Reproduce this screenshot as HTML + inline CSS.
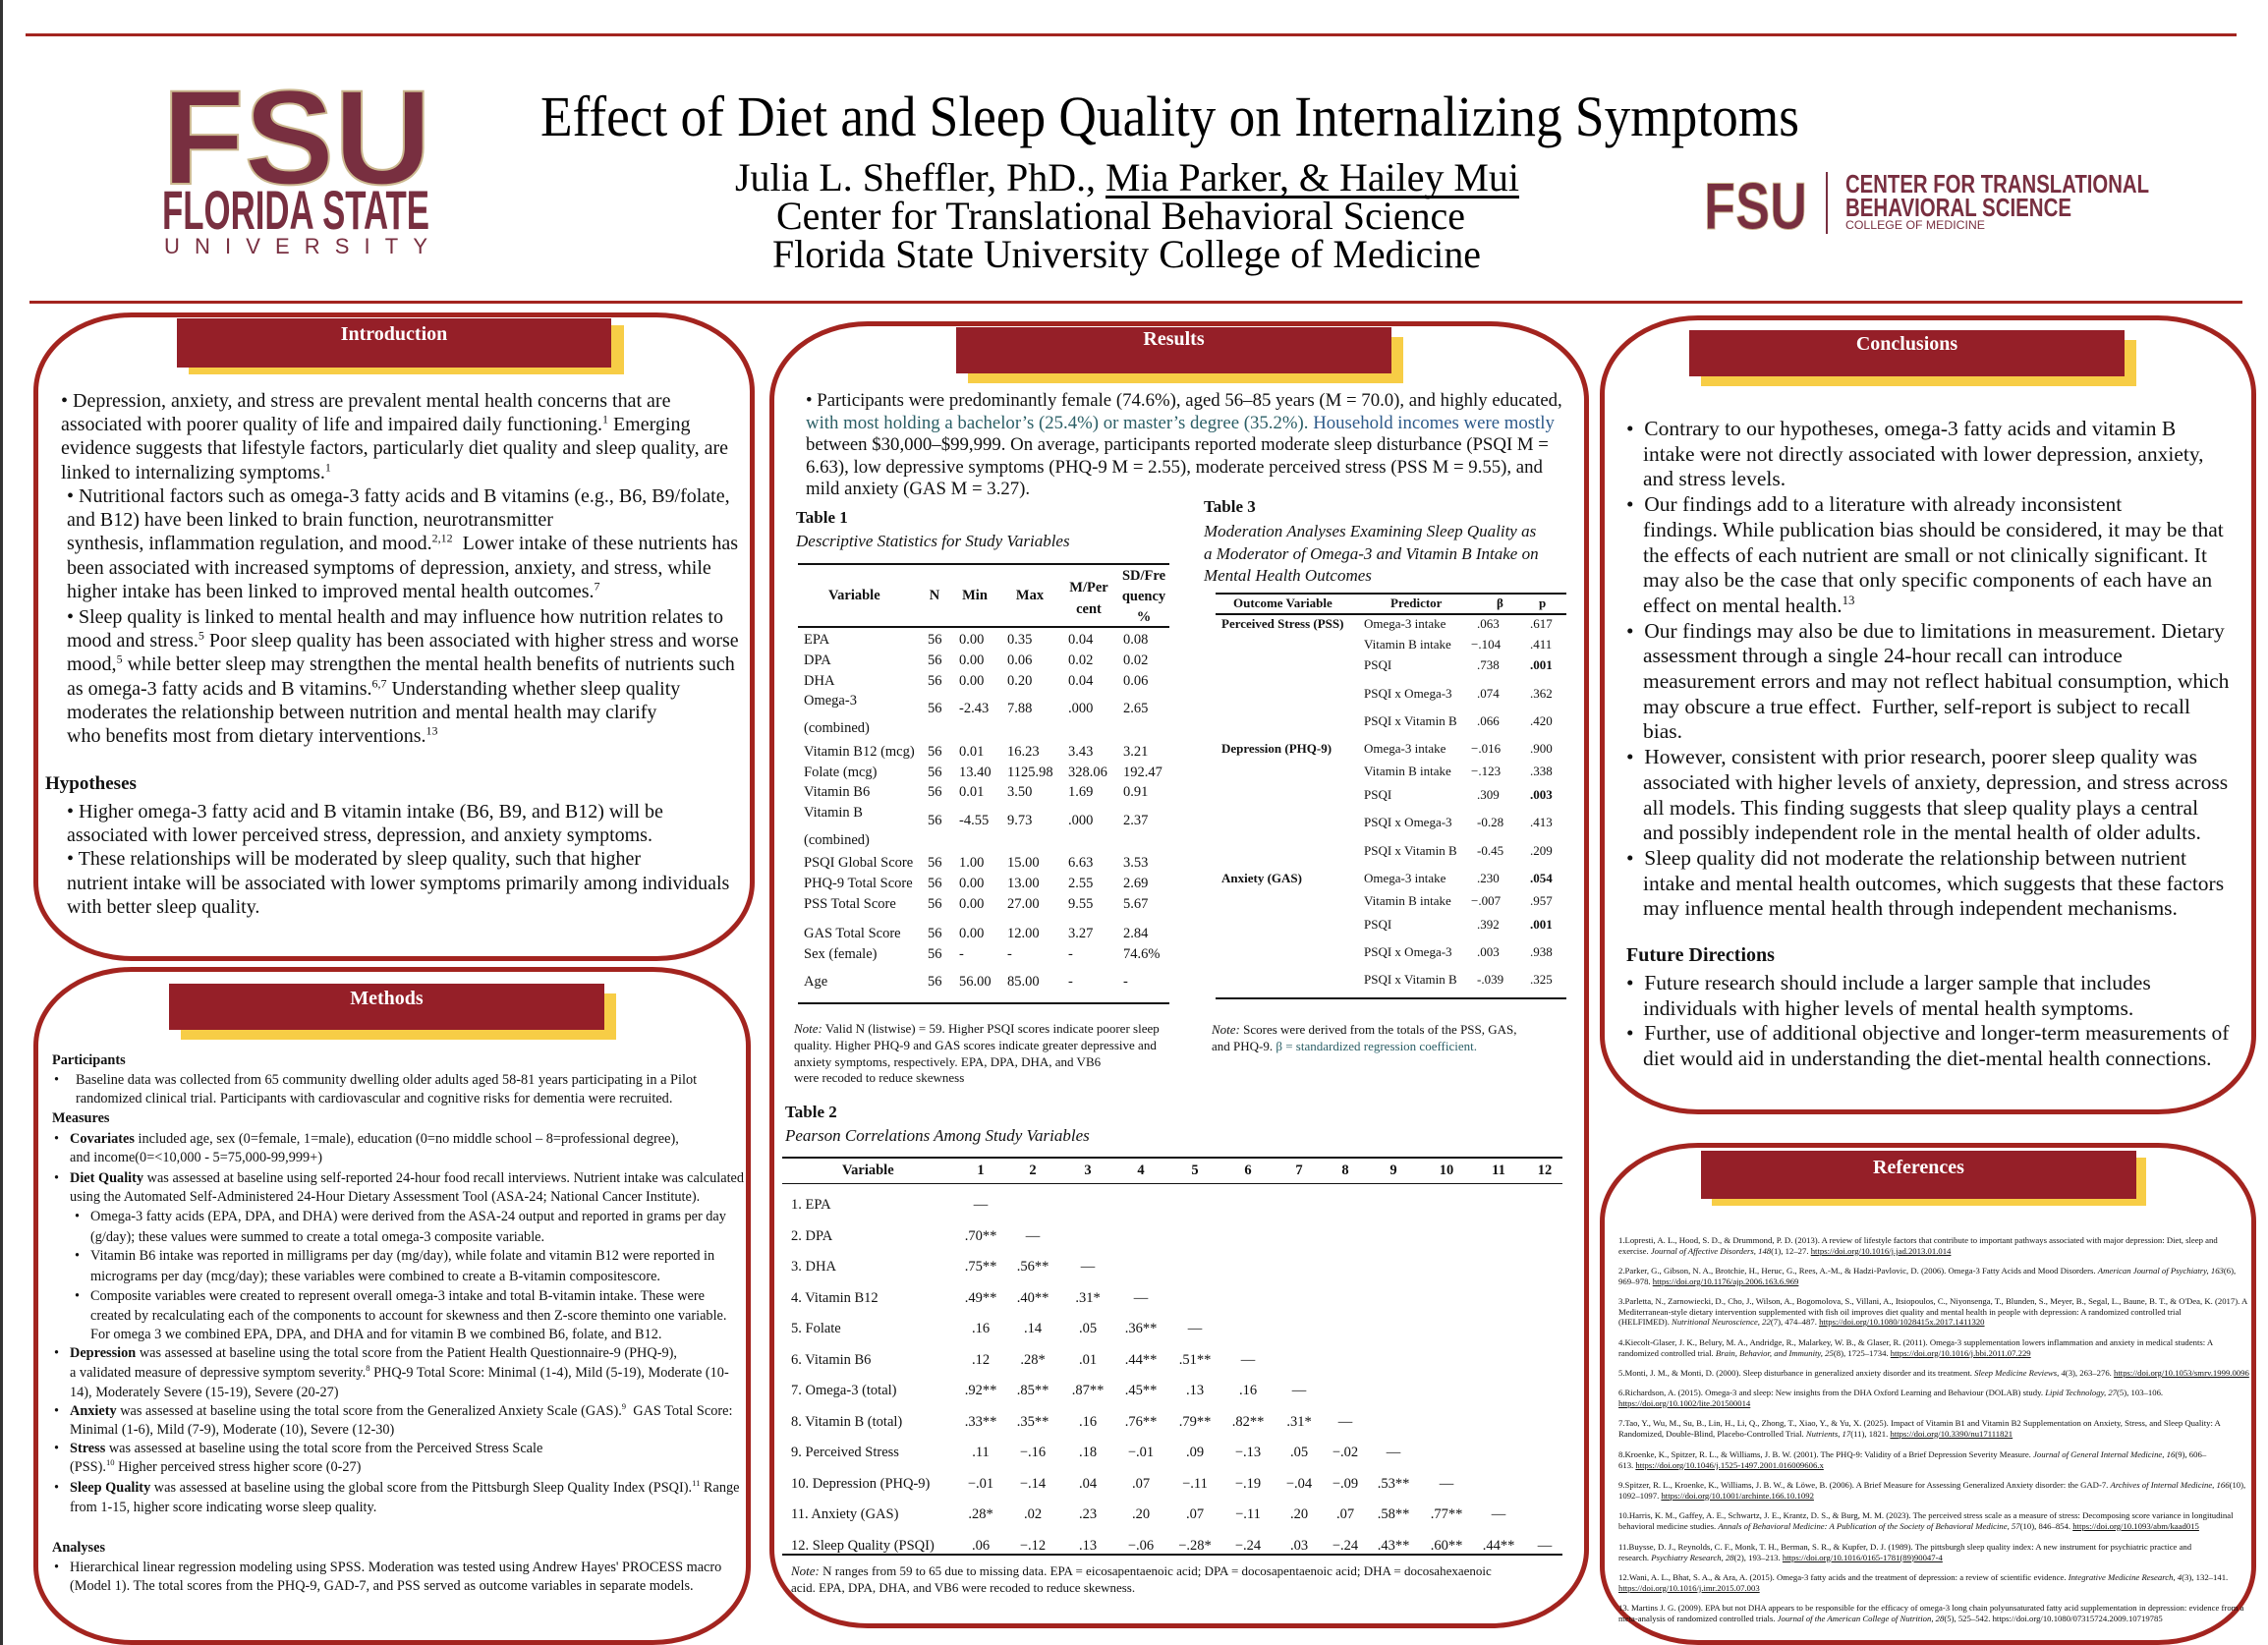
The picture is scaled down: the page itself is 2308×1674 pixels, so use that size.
<!DOCTYPE html>
<html><head><meta charset="utf-8">
<style>
html,body{margin:0;padding:0;background:#fff;}
body{width:2308px;height:1674px;position:relative;overflow:hidden;font-family:"Liberation Serif",serif;color:#111;}
.a{position:absolute;white-space:nowrap;}
.panel{position:absolute;border:5px solid #a3241f;border-radius:100px/80px;background:#fff;box-sizing:border-box;}
.bar{position:absolute;background:#951f28;color:#fff;font-weight:bold;font-size:20px;text-align:center;}
.ybar{position:absolute;background:#f7cd46;}
.hr{position:absolute;background:#a3241f;height:3px;}
.rule{position:absolute;background:#111;}
.intro{font-size:20px;line-height:24.2px;}
.res{font-size:18.8px;line-height:22.6px;}
.conc{font-size:21.5px;line-height:25.7px;}
.cp{padding-left:17px;text-indent:-17px;}
.meth{font-size:14.3px;}
.tb{font-size:14.5px;}
.c{text-align:center;}
.ref{font-size:8.7px;line-height:10.6px;}
.ref u{text-decoration:underline;}
sup{font-size:60%;line-height:0;}
</style></head><body>
<div class="a" style="left:0;top:0;width:3px;height:1674px;background:#333"></div>
<div class="hr" style="left:26px;top:34px;width:2250px;"></div>
<div class="hr" style="left:30px;top:306px;width:2252px;"></div>

<svg class="a" style="left:0;top:0" width="2308" height="300" xmlns="http://www.w3.org/2000/svg">
<text x="165" y="187" font-family="Liberation Sans" font-weight="bold" font-size="137" fill="#782f40" stroke="#cbb88f" stroke-width="2" textLength="274" lengthAdjust="spacingAndGlyphs">FSU</text>
<text x="165" y="233" font-family="Liberation Sans" font-weight="bold" font-size="56" fill="#782f40" textLength="272" lengthAdjust="spacingAndGlyphs">FLORIDA STATE</text>
<text x="167" y="258" font-family="Liberation Sans" font-size="22" fill="#782f40" textLength="268" lengthAdjust="spacing">UNIVERSITY</text>
<text x="550" y="138" font-family="Liberation Serif" font-size="58" fill="#000" textLength="1281" lengthAdjust="spacingAndGlyphs">Effect of Diet and Sleep Quality on Internalizing Symptoms</text>
<text x="748" y="194" font-family="Liberation Serif" font-size="40" fill="#000" textLength="798" lengthAdjust="spacingAndGlyphs">Julia L. Sheffler, PhD., Mia Parker, &amp; Hailey Mui</text>
<rect x="1125" y="199" width="421" height="3" fill="#000"/>
<text x="790" y="233" font-family="Liberation Serif" font-size="40" fill="#000" textLength="701" lengthAdjust="spacingAndGlyphs">Center for Translational Behavioral Science</text>
<text x="786" y="272" font-family="Liberation Serif" font-size="40" fill="#000" textLength="721" lengthAdjust="spacingAndGlyphs">Florida State University College of Medicine</text>
<text x="1734" y="233" font-family="Liberation Sans" font-weight="bold" font-size="68" fill="#782f40" stroke="#cbb88f" stroke-width="1" textLength="105" lengthAdjust="spacingAndGlyphs">FSU</text>
<rect x="1858" y="175" width="2" height="63" fill="#782f40"/>
<text x="1878" y="196" font-family="Liberation Sans" font-weight="bold" font-size="26" fill="#782f40" textLength="309" lengthAdjust="spacingAndGlyphs">CENTER FOR TRANSLATIONAL</text>
<text x="1878" y="220" font-family="Liberation Sans" font-weight="bold" font-size="26" fill="#782f40" textLength="230" lengthAdjust="spacingAndGlyphs">BEHAVIORAL SCIENCE</text>
<text x="1878" y="233" font-family="Liberation Sans" font-size="12" fill="#782f40" textLength="142" lengthAdjust="spacingAndGlyphs">COLLEGE OF MEDICINE</text>
</svg>

<!-- Panels -->
<div class="panel" style="left:34px;top:318px;width:734px;height:660px;"></div>
<div class="panel" style="left:34px;top:984px;width:730px;height:690px;"></div>
<div class="panel" style="left:783px;top:327px;width:834px;height:1330px;"></div>
<div class="panel" style="left:1628px;top:321px;width:668px;height:813px;"></div>
<div class="panel" style="left:1628px;top:1163px;width:668px;height:511px;"></div>

<!-- Bars -->
<div class="ybar" style="left:192px;top:331px;width:443px;height:50px;"></div>
<div class="bar" style="left:180px;top:324px;width:442px;height:50px;line-height:32px;">Introduction</div>
<div class="ybar" style="left:985px;top:343px;width:443px;height:47px;"></div>
<div class="bar" style="left:973px;top:333px;width:443px;height:47px;line-height:24px;">Results</div>
<div class="ybar" style="left:1731px;top:346px;width:443px;height:47px;"></div>
<div class="bar" style="left:1719px;top:336px;width:443px;height:47px;line-height:28px;">Conclusions</div>
<div class="ybar" style="left:184px;top:1011px;width:443px;height:47px;"></div>
<div class="bar" style="left:172px;top:1001px;width:443px;height:47px;line-height:30px;">Methods</div>
<div class="ybar" style="left:1742px;top:1178px;width:442px;height:49px;"></div>
<div class="bar" style="left:1731px;top:1171px;width:443px;height:49px;line-height:34px;">References</div>

<!-- Introduction -->
<div class="a intro" style="left:62px;top:396px;">• Depression, anxiety, and stress are prevalent mental health concerns that are<br>associated with poorer quality of life and impaired daily functioning.<sup>1</sup> Emerging<br>evidence suggests that lifestyle factors, particularly diet quality and sleep quality, are<br>linked to internalizing symptoms.<sup>1</sup></div>
<div class="a intro" style="left:68px;top:493px;">• Nutritional factors such as omega-3 fatty acids and B vitamins (e.g., B6, B9/folate,<br>and B12) have been linked to brain function, neurotransmitter<br>synthesis, inflammation regulation, and mood.<sup>2,12</sup>&nbsp; Lower intake of these nutrients has<br>been associated with increased symptoms of depression, anxiety, and stress, while<br>higher intake has been linked to improved mental health outcomes.<sup>7</sup></div>
<div class="a intro" style="left:68px;top:616px;">• Sleep quality is linked to mental health and may influence how nutrition relates to<br>mood and stress.<sup>5</sup> Poor sleep quality has been associated with higher stress and worse<br>mood,<sup>5</sup> while better sleep may strengthen the mental health benefits of nutrients such<br>as omega-3 fatty acids and B vitamins.<sup>6,7</sup> Understanding whether sleep quality<br>moderates the relationship between nutrition and mental health may clarify<br>who benefits most from dietary interventions.<sup>13</sup></div>
<div class="a" style="left:46px;top:787px;font-size:19px;font-weight:bold;">Hypotheses</div>
<div class="a intro" style="left:68px;top:814px;">• Higher omega-3 fatty acid and B vitamin intake (B6, B9, and B12) will be<br>associated with lower perceived stress, depression, and anxiety symptoms.<br>• These relationships will be moderated by sleep quality, such that higher<br>nutrient intake will be associated with lower symptoms primarily among individuals<br>with better sleep quality.</div>

<!-- Methods -->
<div class="a meth" style="left:53px;top:1071px;font-weight:bold;">Participants</div>
<div class="a meth" style="left:55px;top:1091px;">•</div>
<div class="a meth" style="left:77px;top:1091px;">Baseline data was collected from 65 community dwelling older adults aged 58-81 years participating in a Pilot</div>
<div class="a meth" style="left:77px;top:1110px;">randomized clinical trial. Participants with cardiovascular and cognitive risks for dementia were recruited.</div>
<div class="a meth" style="left:53px;top:1130px;font-weight:bold;">Measures</div>
<div class="a meth" style="left:55px;top:1151px;">•</div>
<div class="a meth" style="left:71px;top:1151px;"><b>Covariates</b> included age, sex (0=female, 1=male), education (0=no middle school – 8=professional degree),</div>
<div class="a meth" style="left:71px;top:1170px;">and income(0=&lt;10,000 - 5=75,000-99,999+)</div>
<div class="a meth" style="left:55px;top:1191px;">•</div>
<div class="a meth" style="left:71px;top:1191px;"><b>Diet Quality</b> was assessed at baseline using self-reported 24-hour food recall interviews. Nutrient intake was calculated</div>
<div class="a meth" style="left:71px;top:1210px;">using the Automated Self-Administered 24-Hour Dietary Assessment Tool (ASA-24; National Cancer Institute).</div>
<div class="a meth" style="left:76px;top:1230px;">•</div>
<div class="a meth" style="left:92px;top:1230px;">Omega-3 fatty acids (EPA, DPA, and DHA) were derived from the ASA-24 output and reported in grams per day</div>
<div class="a meth" style="left:92px;top:1251px;">(g/day); these values were summed to create a total omega-3 composite variable.</div>
<div class="a meth" style="left:76px;top:1270px;">•</div>
<div class="a meth" style="left:92px;top:1270px;">Vitamin B6 intake was reported in milligrams per day (mg/day), while folate and vitamin B12 were reported in</div>
<div class="a meth" style="left:92px;top:1291px;">micrograms per day (mcg/day); these variables were combined to create a B-vitamin compositescore.</div>
<div class="a meth" style="left:76px;top:1311px;">•</div>
<div class="a meth" style="left:92px;top:1311px;">Composite variables were created to represent overall omega-3 intake and total B-vitamin intake. These were</div>
<div class="a meth" style="left:92px;top:1331px;">created by recalculating each of the components to account for skewness and then Z-score theminto one variable.</div>
<div class="a meth" style="left:92px;top:1350px;">For omega 3 we combined EPA, DPA, and DHA and for vitamin B we combined B6, folate, and B12.</div>
<div class="a meth" style="left:55px;top:1369px;">•</div>
<div class="a meth" style="left:71px;top:1369px;"><b>Depression</b> was assessed at baseline using the total score from the Patient Health Questionnaire-9 (PHQ-9),</div>
<div class="a meth" style="left:71px;top:1389px;">a validated measure of depressive symptom severity.<sup>8</sup> PHQ-9 Total Score: Minimal (1-4), Mild (5-19), Moderate (10-</div>
<div class="a meth" style="left:71px;top:1409px;">14), Moderately Severe (15-19), Severe (20-27)</div>
<div class="a meth" style="left:55px;top:1428px;">•</div>
<div class="a meth" style="left:71px;top:1428px;"><b>Anxiety</b> was assessed at baseline using the total score from the Generalized Anxiety Scale (GAS).<sup>9</sup>&nbsp; GAS Total Score:</div>
<div class="a meth" style="left:71px;top:1447px;">Minimal (1-6), Mild (7-9), Moderate (10), Severe (12-30)</div>
<div class="a meth" style="left:55px;top:1466px;">•</div>
<div class="a meth" style="left:71px;top:1466px;"><b>Stress</b> was assessed at baseline using the total score from the Perceived Stress Scale</div>
<div class="a meth" style="left:71px;top:1485px;">(PSS).<sup>10</sup> Higher perceived stress higher score (0-27)</div>
<div class="a meth" style="left:55px;top:1506px;">•</div>
<div class="a meth" style="left:71px;top:1506px;"><b>Sleep Quality</b> was assessed at baseline using the global score from the Pittsburgh Sleep Quality Index (PSQI).<sup>11</sup> Range</div>
<div class="a meth" style="left:71px;top:1526px;">from 1-15, higher score indicating worse sleep quality.</div>
<div class="a meth" style="left:53px;top:1567px;font-weight:bold;">Analyses</div>
<div class="a meth" style="left:55px;top:1587px;">•</div>
<div class="a meth" style="left:71px;top:1587px;">Hierarchical linear regression modeling using SPSS. Moderation was tested using Andrew Hayes' PROCESS macro</div>
<div class="a meth" style="left:71px;top:1606px;">(Model 1). The total scores from the PHQ-9, GAD-7, and PSS served as outcome variables in separate models.</div>

<!-- Results text -->
<div class="a res" style="left:820px;top:397px;">• Participants were predominantly female (74.6%), aged 56–85 years (M = 70.0), and highly educated,<br><span style="color:#2b5f66">with most holding a bachelor’s (25.4%) or master’s degree (35.2%).</span> <span style="color:#2d5a8a">Household incomes were mostly</span><br>between $30,000–$99,999. On average, participants reported moderate sleep disturbance (PSQI M =<br>6.63), low depressive symptoms (PHQ-9 M = 2.55), moderate perceived stress (PSS M = 9.55), and<br>mild anxiety (GAS M = 3.27).</div>

<!-- Table 1 -->
<div class="a" style="left:810px;top:517px;font-size:17px;font-weight:bold;">Table 1</div>
<div class="a" style="left:810px;top:541px;font-size:17px;font-style:italic;">Descriptive Statistics for Study Variables</div>
<div class="rule" style="left:812px;top:573px;width:378px;height:2px;"></div>
<div class="rule" style="left:812px;top:637px;width:378px;height:2px;"></div>
<div class="rule" style="left:812px;top:1020px;width:378px;height:2px;"></div>
<div class="a tb" style="left:843px;top:598px;font-weight:bold;width:60px;" >Variable</div>
<div class="a tb c" style="left:936px;top:598px;width:30px;font-weight:bold;">N</div>
<div class="a tb c" style="left:972px;top:598px;width:40px;font-weight:bold;">Min</div>
<div class="a tb c" style="left:1028px;top:598px;width:40px;font-weight:bold;">Max</div>
<div class="a tb c" style="left:1080px;top:587px;width:56px;font-weight:bold;line-height:22px;white-space:normal;">M/Per<br>cent</div>
<div class="a tb c" style="left:1136px;top:576px;width:56px;font-weight:bold;line-height:21px;">SD/Fre<br>quency<br>%</div>
<div class="a tb" style="left:818px;top:641px;line-height:21px;">EPA<br>DPA<br>DHA</div>
<div class="a tb" style="left:818px;top:699px;line-height:28px;">Omega-3<br>(combined)</div>
<div class="a tb" style="left:818px;top:755px;line-height:20.5px;">Vitamin B12 (mcg)<br>Folate (mcg)<br>Vitamin B6</div>
<div class="a tb" style="left:818px;top:813px;line-height:28px;">Vitamin B<br>(combined)</div>
<div class="a tb" style="left:818px;top:868px;line-height:21px;">PSQI Global Score<br>PHQ-9 Total Score<br>PSS Total Score</div>
<div class="a tb" style="left:818px;top:940px;line-height:21px;">GAS Total Score<br>Sex (female)</div>
<div class="a tb" style="left:818px;top:991px;">Age</div>
<div class="a tb" style="left:944px;top:641px;line-height:21px;">56<br>56<br>56</div>
<div class="a tb" style="left:944px;top:713px;">56</div>
<div class="a tb" style="left:944px;top:755px;line-height:20.5px;">56<br>56<br>56</div>
<div class="a tb" style="left:944px;top:827px;">56</div>
<div class="a tb" style="left:944px;top:868px;line-height:21px;">56<br>56<br>56</div>
<div class="a tb" style="left:944px;top:940px;line-height:21px;">56<br>56</div>
<div class="a tb" style="left:944px;top:991px;">56</div>
<div class="a tb" style="left:976px;top:641px;line-height:21px;">0.00<br>0.00<br>0.00</div>
<div class="a tb" style="left:976px;top:713px;">-2.43</div>
<div class="a tb" style="left:976px;top:755px;line-height:20.5px;">0.01<br>13.40<br>0.01</div>
<div class="a tb" style="left:976px;top:827px;">-4.55</div>
<div class="a tb" style="left:976px;top:868px;line-height:21px;">1.00<br>0.00<br>0.00</div>
<div class="a tb" style="left:976px;top:940px;line-height:21px;">0.00<br>-</div>
<div class="a tb" style="left:976px;top:991px;">56.00</div>
<div class="a tb" style="left:1025px;top:641px;line-height:21px;">0.35<br>0.06<br>0.20</div>
<div class="a tb" style="left:1025px;top:713px;">7.88</div>
<div class="a tb" style="left:1025px;top:755px;line-height:20.5px;">16.23<br>1125.98<br>3.50</div>
<div class="a tb" style="left:1025px;top:827px;">9.73</div>
<div class="a tb" style="left:1025px;top:868px;line-height:21px;">15.00<br>13.00<br>27.00</div>
<div class="a tb" style="left:1025px;top:940px;line-height:21px;">12.00<br>-</div>
<div class="a tb" style="left:1025px;top:991px;">85.00</div>
<div class="a tb" style="left:1087px;top:641px;line-height:21px;">0.04<br>0.02<br>0.04</div>
<div class="a tb" style="left:1087px;top:713px;">.000</div>
<div class="a tb" style="left:1087px;top:755px;line-height:20.5px;">3.43<br>328.06<br>1.69</div>
<div class="a tb" style="left:1087px;top:827px;">.000</div>
<div class="a tb" style="left:1087px;top:868px;line-height:21px;">6.63<br>2.55<br>9.55</div>
<div class="a tb" style="left:1087px;top:940px;line-height:21px;">3.27<br>-</div>
<div class="a tb" style="left:1087px;top:991px;">-</div>
<div class="a tb" style="left:1143px;top:641px;line-height:21px;">0.08<br>0.02<br>0.06</div>
<div class="a tb" style="left:1143px;top:713px;">2.65</div>
<div class="a tb" style="left:1143px;top:755px;line-height:20.5px;">3.21<br>192.47<br>0.91</div>
<div class="a tb" style="left:1143px;top:827px;">2.37</div>
<div class="a tb" style="left:1143px;top:868px;line-height:21px;">3.53<br>2.69<br>5.67</div>
<div class="a tb" style="left:1143px;top:940px;line-height:21px;">2.84<br>74.6%</div>
<div class="a tb" style="left:1143px;top:991px;">-</div>
<div class="a" style="left:808px;top:1039px;font-size:13px;line-height:16.8px;"><i>Note:</i> Valid N (listwise) = 59. Higher PSQI scores indicate poorer sleep<br>quality. Higher PHQ-9 and GAS scores indicate greater depressive and<br>anxiety symptoms, respectively. EPA, DPA, DHA, and VB6<br>were recoded to reduce skewness</div>

<!-- Table 3 -->
<div class="a" style="left:1225px;top:506px;font-size:17px;font-weight:bold;">Table 3</div>
<div class="a" style="left:1225px;top:530px;font-size:17px;font-style:italic;line-height:22.5px;">Moderation Analyses Examining Sleep Quality as<br>a Moderator of Omega-3 and Vitamin B Intake on<br>Mental Health Outcomes</div>
<div class="rule" style="left:1237px;top:603px;width:357px;height:2px;"></div>
<div class="rule" style="left:1237px;top:624px;width:357px;height:2px;"></div>
<div class="rule" style="left:1237px;top:1015px;width:357px;height:2px;"></div>
<div class="a" style="left:1255px;top:606px;font-size:13px;font-weight:bold;">Outcome Variable</div>
<div class="a" style="left:1415px;top:606px;font-size:13px;font-weight:bold;">Predictor</div>
<div class="a" style="left:1523px;top:606px;font-size:13px;font-weight:bold;">β</div>
<div class="a" style="left:1566px;top:606px;font-size:13px;font-weight:bold;">p</div>
<div class="a" style="left:1243px;top:627px;font-size:13px;font-weight:bold;">Perceived Stress (PSS)</div>
<div class="a" style="left:1243px;top:754px;font-size:13px;font-weight:bold;">Depression (PHQ-9)</div>
<div class="a" style="left:1243px;top:886px;font-size:13px;font-weight:bold;">Anxiety (GAS)</div>
<div class="a" style="left:1388px;top:627px;font-size:13px;">Omega-3 intake</div><div class="a" style="left:1503px;top:627px;font-size:13px;">.063</div><div class="a" style="left:1557px;top:627px;font-size:13px;">.617</div>
<div class="a" style="left:1388px;top:648px;font-size:13px;">Vitamin B intake</div><div class="a" style="left:1497px;top:648px;font-size:13px;">−.104</div><div class="a" style="left:1557px;top:648px;font-size:13px;">.411</div>
<div class="a" style="left:1388px;top:669px;font-size:13px;">PSQI</div><div class="a" style="left:1503px;top:669px;font-size:13px;">.738</div><div class="a" style="left:1557px;top:669px;font-size:13px;font-weight:bold;">.001</div>
<div class="a" style="left:1388px;top:698px;font-size:13px;">PSQI x Omega-3</div><div class="a" style="left:1503px;top:698px;font-size:13px;">.074</div><div class="a" style="left:1557px;top:698px;font-size:13px;">.362</div>
<div class="a" style="left:1388px;top:726px;font-size:13px;">PSQI x Vitamin B</div><div class="a" style="left:1503px;top:726px;font-size:13px;">.066</div><div class="a" style="left:1557px;top:726px;font-size:13px;">.420</div>
<div class="a" style="left:1388px;top:754px;font-size:13px;">Omega-3 intake</div><div class="a" style="left:1497px;top:754px;font-size:13px;">−.016</div><div class="a" style="left:1557px;top:754px;font-size:13px;">.900</div>
<div class="a" style="left:1388px;top:777px;font-size:13px;">Vitamin B intake</div><div class="a" style="left:1497px;top:777px;font-size:13px;">−.123</div><div class="a" style="left:1557px;top:777px;font-size:13px;">.338</div>
<div class="a" style="left:1388px;top:801px;font-size:13px;">PSQI</div><div class="a" style="left:1503px;top:801px;font-size:13px;">.309</div><div class="a" style="left:1557px;top:801px;font-size:13px;font-weight:bold;">.003</div>
<div class="a" style="left:1388px;top:829px;font-size:13px;">PSQI x Omega-3</div><div class="a" style="left:1503px;top:829px;font-size:13px;">-0.28</div><div class="a" style="left:1557px;top:829px;font-size:13px;">.413</div>
<div class="a" style="left:1388px;top:858px;font-size:13px;">PSQI x Vitamin B</div><div class="a" style="left:1503px;top:858px;font-size:13px;">-0.45</div><div class="a" style="left:1557px;top:858px;font-size:13px;">.209</div>
<div class="a" style="left:1388px;top:886px;font-size:13px;">Omega-3 intake</div><div class="a" style="left:1503px;top:886px;font-size:13px;">.230</div><div class="a" style="left:1557px;top:886px;font-size:13px;font-weight:bold;">.054</div>
<div class="a" style="left:1388px;top:909px;font-size:13px;">Vitamin B intake</div><div class="a" style="left:1497px;top:909px;font-size:13px;">−.007</div><div class="a" style="left:1557px;top:909px;font-size:13px;">.957</div>
<div class="a" style="left:1388px;top:933px;font-size:13px;">PSQI</div><div class="a" style="left:1503px;top:933px;font-size:13px;">.392</div><div class="a" style="left:1557px;top:933px;font-size:13px;font-weight:bold;">.001</div>
<div class="a" style="left:1388px;top:961px;font-size:13px;">PSQI x Omega-3</div><div class="a" style="left:1503px;top:961px;font-size:13px;">.003</div><div class="a" style="left:1557px;top:961px;font-size:13px;">.938</div>
<div class="a" style="left:1388px;top:989px;font-size:13px;">PSQI x Vitamin B</div><div class="a" style="left:1503px;top:989px;font-size:13px;">-.039</div><div class="a" style="left:1557px;top:989px;font-size:13px;">.325</div>
<div class="a" style="left:1233px;top:1040px;font-size:13px;line-height:16.5px;"><i>Note:</i> Scores were derived from the totals of the PSS, GAS,<br>and PHQ-9. <span style="color:#2b5f66">β = standardized regression coefficient.</span></div>

<!-- Table 2 -->
<div class="a" style="left:799px;top:1122px;font-size:17px;font-weight:bold;">Table 2</div>
<div class="a" style="left:799px;top:1146px;font-size:17px;font-style:italic;">Pearson Correlations Among Study Variables</div>
<div class="rule" style="left:796px;top:1177px;width:794px;height:2px;"></div>
<div class="rule" style="left:796px;top:1204px;width:794px;height:1px;"></div>
<div class="rule" style="left:796px;top:1581px;width:794px;height:2px;"></div>
<div class="a tb" style="left:857px;top:1183px;font-weight:bold;">Variable</div>
<div class="a tb c" style="left:973px;top:1183px;width:50px;font-weight:bold;">1</div>
<div class="a tb c" style="left:1026px;top:1183px;width:50px;font-weight:bold;">2</div>
<div class="a tb c" style="left:1082px;top:1183px;width:50px;font-weight:bold;">3</div>
<div class="a tb c" style="left:1136px;top:1183px;width:50px;font-weight:bold;">4</div>
<div class="a tb c" style="left:1191px;top:1183px;width:50px;font-weight:bold;">5</div>
<div class="a tb c" style="left:1245px;top:1183px;width:50px;font-weight:bold;">6</div>
<div class="a tb c" style="left:1297px;top:1183px;width:50px;font-weight:bold;">7</div>
<div class="a tb c" style="left:1344px;top:1183px;width:50px;font-weight:bold;">8</div>
<div class="a tb c" style="left:1393px;top:1183px;width:50px;font-weight:bold;">9</div>
<div class="a tb c" style="left:1447px;top:1183px;width:50px;font-weight:bold;">10</div>
<div class="a tb c" style="left:1500px;top:1183px;width:50px;font-weight:bold;">11</div>
<div class="a tb c" style="left:1547px;top:1183px;width:50px;font-weight:bold;">12</div>

<div class="a tb" style="left:805px;top:1211px;line-height:31.5px;">1. EPA<br>2. DPA<br>3. DHA<br>4. Vitamin B12<br>5. Folate<br>6. Vitamin B6<br>7. Omega-3 (total)<br>8. Vitamin B (total)<br>9. Perceived Stress<br>10. Depression (PHQ-9)<br>11. Anxiety (GAS)<br>12. Sleep Quality (PSQI)</div>
<div class="a tb c" style="left:973px;top:1211px;width:50px;line-height:31.5px;">—<br>.70**<br>.75**<br>.49**<br>.16<br>.12<br>.92**<br>.33**<br>.11<br>−.01<br>.28*<br>.06</div>
<div class="a tb c" style="left:1026px;top:1242.5px;width:50px;line-height:31.5px;">—<br>.56**<br>.40**<br>.14<br>.28*<br>.85**<br>.35**<br>−.16<br>−.14<br>.02<br>−.12</div>
<div class="a tb c" style="left:1082px;top:1274px;width:50px;line-height:31.5px;">—<br>.31*<br>.05<br>.01<br>.87**<br>.16<br>.18<br>.04<br>.23<br>.13</div>
<div class="a tb c" style="left:1136px;top:1305.5px;width:50px;line-height:31.5px;">—<br>.36**<br>.44**<br>.45**<br>.76**<br>−.01<br>.07<br>.20<br>−.06</div>
<div class="a tb c" style="left:1191px;top:1337px;width:50px;line-height:31.5px;">—<br>.51**<br>.13<br>.79**<br>.09<br>−.11<br>.07<br>−.28*</div>
<div class="a tb c" style="left:1245px;top:1368.5px;width:50px;line-height:31.5px;">—<br>.16<br>.82**<br>−.13<br>−.19<br>−.11<br>−.24</div>
<div class="a tb c" style="left:1297px;top:1400px;width:50px;line-height:31.5px;">—<br>.31*<br>.05<br>−.04<br>.20<br>.03</div>
<div class="a tb c" style="left:1344px;top:1431.5px;width:50px;line-height:31.5px;">—<br>−.02<br>−.09<br>.07<br>−.24</div>
<div class="a tb c" style="left:1393px;top:1463px;width:50px;line-height:31.5px;">—<br>.53**<br>.58**<br>.43**</div>
<div class="a tb c" style="left:1447px;top:1494.5px;width:50px;line-height:31.5px;">—<br>.77**<br>.60**</div>
<div class="a tb c" style="left:1500px;top:1526px;width:50px;line-height:31.5px;">—<br>.44**</div>
<div class="a tb c" style="left:1547px;top:1557.5px;width:50px;line-height:31.5px;">—</div>
<div class="a" style="left:805px;top:1591px;font-size:13px;line-height:16.5px;"><i>Note:</i> N ranges from 59 to 65 due to missing data. EPA = eicosapentaenoic acid; DPA = docosapentaenoic acid; DHA = docosahexaenoic<br>acid. EPA, DPA, DHA, and VB6 were recoded to reduce skewness.</div>

<!-- Conclusions -->
<div class="a conc" style="left:1655px;top:424px;">
<div class="cp">•&nbsp; Contrary to our hypotheses, omega-3 fatty acids and vitamin B<br>intake were not directly associated with lower depression, anxiety,<br>and stress levels.</div>
<div class="cp">•&nbsp; Our findings add to a literature with already inconsistent<br>findings. While publication bias should be considered, it may be that<br>the effects of each nutrient are small or not clinically significant. It<br>may also be the case that only specific components of each have an<br>effect on mental health.<sup>13</sup></div>
<div class="cp">•&nbsp; Our findings may also be due to limitations in measurement. Dietary<br>assessment through a single 24-hour recall can introduce<br>measurement errors and may not reflect habitual consumption, which<br>may obscure a true effect.&nbsp; Further, self-report is subject to recall<br>bias.</div>
<div class="cp">•&nbsp; However, consistent with prior research, poorer sleep quality was<br>associated with higher levels of anxiety, depression, and stress across<br>all models. This finding suggests that sleep quality plays a central<br>and possibly independent role in the mental health of older adults.</div>
<div class="cp">•&nbsp; Sleep quality did not moderate the relationship between nutrient<br>intake and mental health outcomes, which suggests that these factors<br>may influence mental health through independent mechanisms.</div>
</div>
<div class="a" style="left:1655px;top:961px;font-size:20px;font-weight:bold;">Future Directions</div>
<div class="a conc" style="left:1655px;top:988px;">
<div class="cp">•&nbsp; Future research should include a larger sample that includes<br>individuals with higher levels of mental health symptoms.</div>
<div class="cp">•&nbsp; Further, use of additional objective and longer-term measurements of<br>diet would aid in understanding the diet-mental health connections.</div>
</div>

<!-- References -->
<div class="a ref" style="left:1647px;top:1257px;">1.Lopresti, A. L., Hood, S. D., &amp; Drummond, P. D. (2013). A review of lifestyle factors that contribute to important pathways associated with major depression: Diet, sleep and<br>exercise. <i>Journal of Affective Disorders, 148</i>(1), 12–27. <u>https://doi.org/10.1016/j.jad.2013.01.014</u></div>
<div class="a ref" style="left:1647px;top:1288px;">2.Parker, G., Gibson, N. A., Brotchie, H., Heruc, G., Rees, A.-M., &amp; Hadzi-Pavlovic, D. (2006). Omega-3 Fatty Acids and Mood Disorders. <i>American Journal of Psychiatry, 163</i>(6),<br>969–978. <u>https://doi.org/10.1176/ajp.2006.163.6.969</u></div>
<div class="a ref" style="left:1647px;top:1319px;">3.Parletta, N., Zarnowiecki, D., Cho, J., Wilson, A., Bogomolova, S., Villani, A., Itsiopoulos, C., Niyonsenga, T., Blunden, S., Meyer, B., Segal, L., Baune, B. T., &amp; O'Dea, K. (2017). A<br>Mediterranean-style dietary intervention supplemented with fish oil improves diet quality and mental health in people with depression: A randomized controlled trial<br>(HELFIMED). <i>Nutritional Neuroscience, 22</i>(7), 474–487. <u>https://doi.org/10.1080/1028415x.2017.1411320</u></div>
<div class="a ref" style="left:1647px;top:1361px;">4.Kiecolt-Glaser, J. K., Belury, M. A., Andridge, R., Malarkey, W. B., &amp; Glaser, R. (2011). Omega-3 supplementation lowers inflammation and anxiety in medical students: A<br>randomized controlled trial. <i>Brain, Behavior, and Immunity, 25</i>(8), 1725–1734. <u>https://doi.org/10.1016/j.bbi.2011.07.229</u></div>
<div class="a ref" style="left:1647px;top:1392px;">5.Monti, J. M., &amp; Monti, D. (2000). Sleep disturbance in generalized anxiety disorder and its treatment. <i>Sleep Medicine Reviews, 4</i>(3), 263–276. <u>https://doi.org/10.1053/smrv.1999.0096</u></div>
<div class="a ref" style="left:1647px;top:1412px;">6.Richardson, A. (2015). Omega-3 and sleep: New insights from the DHA Oxford Learning and Behaviour (DOLAB) study. <i>Lipid Technology, 27</i>(5), 103–106.<br><u>https://doi.org/10.1002/lite.201500014</u></div>
<div class="a ref" style="left:1647px;top:1443px;">7.Tao, Y., Wu, M., Su, B., Lin, H., Li, Q., Zhong, T., Xiao, Y., &amp; Yu, X. (2025). Impact of Vitamin B1 and Vitamin B2 Supplementation on Anxiety, Stress, and Sleep Quality: A<br>Randomized, Double-Blind, Placebo-Controlled Trial. <i>Nutrients, 17</i>(11), 1821. <u>https://doi.org/10.3390/nu17111821</u></div>
<div class="a ref" style="left:1647px;top:1475px;">8.Kroenke, K., Spitzer, R. L., &amp; Williams, J. B. W. (2001). The PHQ-9: Validity of a Brief Depression Severity Measure. <i>Journal of General Internal Medicine, 16</i>(9), 606–<br>613. <u>https://doi.org/10.1046/j.1525-1497.2001.016009606.x</u></div>
<div class="a ref" style="left:1647px;top:1506px;">9.Spitzer, R. L., Kroenke, K., Williams, J. B. W., &amp; Löwe, B. (2006). A Brief Measure for Assessing Generalized Anxiety disorder: the GAD-7. <i>Archives of Internal Medicine, 166</i>(10),<br>1092–1097. <u>https://doi.org/10.1001/archinte.166.10.1092</u></div>
<div class="a ref" style="left:1647px;top:1537px;">10.Harris, K. M., Gaffey, A. E., Schwartz, J. E., Krantz, D. S., &amp; Burg, M. M. (2023). The perceived stress scale as a measure of stress: Decomposing score variance in longitudinal<br>behavioral medicine studies. <i>Annals of Behavioral Medicine: A Publication of the Society of Behavioral Medicine, 57</i>(10), 846–854. <u>https://doi.org/10.1093/abm/kaad015</u></div>
<div class="a ref" style="left:1647px;top:1569px;">11.Buysse, D. J., Reynolds, C. F., Monk, T. H., Berman, S. R., &amp; Kupfer, D. J. (1989). The pittsburgh sleep quality index: A new instrument for psychiatric practice and<br>research. <i>Psychiatry Research, 28</i>(2), 193–213. <u>https://doi.org/10.1016/0165-1781(89)90047-4</u></div>
<div class="a ref" style="left:1647px;top:1600px;">12.Wani, A. L., Bhat, S. A., &amp; Ara, A. (2015). Omega-3 fatty acids and the treatment of depression: a review of scientific evidence. <i>Integrative Medicine Research, 4</i>(3), 132–141.<br><u>https://doi.org/10.1016/j.imr.2015.07.003</u></div>
<div class="a ref" style="left:1647px;top:1631px;">13. Martins J. G. (2009). EPA but not DHA appears to be responsible for the efficacy of omega-3 long chain polyunsaturated fatty acid supplementation in depression: evidence from a<br>meta-analysis of randomized controlled trials. <i>Journal of the American College of Nutrition, 28</i>(5), 525–542. https://doi.org/10.1080/07315724.2009.10719785</div>
</body></html>
